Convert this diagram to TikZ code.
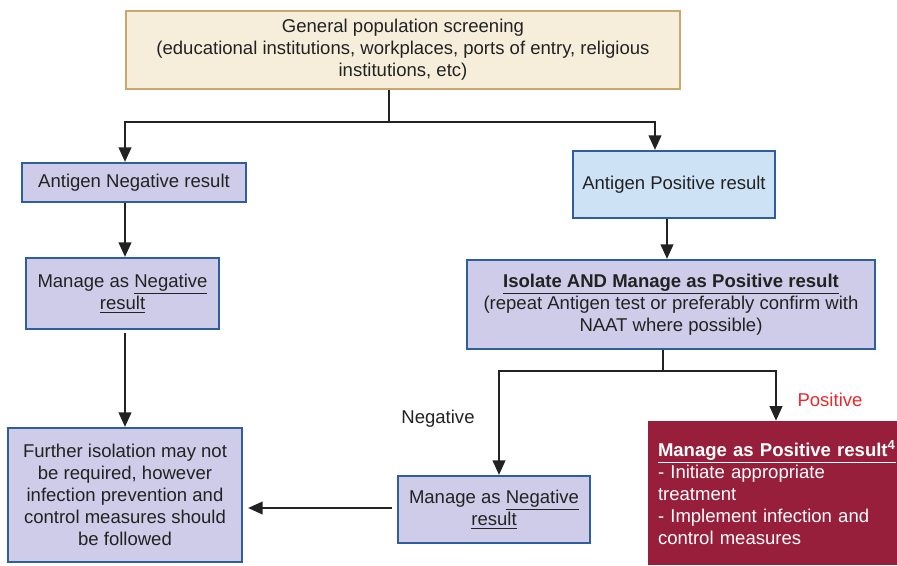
\documentclass[tikz,border=0pt]{standalone}
\usepackage{fontspec}
\setmainfont{Liberation Sans}
\usetikzlibrary{arrows.meta}
\definecolor{beigefill}{HTML}{F6EEDB}
\definecolor{beigeline}{HTML}{C9A96B}
\definecolor{lavfill}{HTML}{CECCE9}
\definecolor{blueline}{HTML}{2F5E9F}
\definecolor{skyfill}{HTML}{CDE2F5}
\definecolor{winefill}{HTML}{971F3B}
\definecolor{posred}{HTML}{E8292C}
\definecolor{ink}{HTML}{222222}
\tikzset{
  box/.style={draw=blueline, fill=lavfill, line width=1.6pt, align=center,
    text=ink, inner sep=0pt},
  conn/.style={draw=ink, line width=1.6pt},
  arr/.style={conn, -{Triangle[length=11pt,width=9.5pt]}},
  lbl/.style={text=ink, inner sep=0pt}
}
\begin{document}
\begin{tikzpicture}[x=0.75pt, y=-0.75pt, font=\fontsize{13.9}{16.5}\selectfont]
  \useasboundingbox (0,0) rectangle (897,565);
  % boxes
  \node[box, draw=beigeline, fill=beigefill, minimum width=415.5pt, minimum height=58.5pt]
    (screen) at (403,50) {General population screening\\(educational institutions, workplaces, ports of entry, religious\\institutions, etc)};
  \node[box, minimum width=168pt, minimum height=29.25pt] (antneg) at (134,182.5) {Antigen Negative result};
  \node[box, fill=skyfill, minimum width=151.5pt, minimum height=50.25pt] (antpos) at (674,184.5) {Antigen Positive result};
  \node[box, minimum width=144.75pt, minimum height=53.25pt] (manneg) at (122.5,293.5) {Manage as \underline{Negative}\\\underline{result}};
  \node[box, minimum width=306pt, minimum height=66.75pt] (isolate) at (671,304.5)
    {\textbf{\underline{Isolate AND Manage as Positive result}}\\(repeat Antigen test or preferably confirm with\\NAAT where possible)};
  \node[box, minimum width=175.5pt, minimum height=100.5pt] (further) at (125,495)
    {Further isolation may not\\be required, however\\infection prevention and\\control measures should\\be followed};
  \node[box, minimum width=144pt, minimum height=50.25pt] (retestneg) at (494,509.5) {Manage as \underline{Negative}\\\underline{result}};
  \node[fill=winefill, text=white, align=left, text width=171.75pt, inner sep=7.5pt,
    minimum height=108pt] (managepos) at (772.5,493)
    {\textbf{\underline{Manage as Positive result\textsuperscript{4}}}\\- Initiate appropriate\\treatment\\- Implement infection and\\control measures};
  % labels
  \node[lbl] (neglbl) at (438,419) {Negative};
  \node[lbl, text=posred] (poslbl) at (830,400) {Positive};
  % connectors
  \coordinate (split) at (389,122);
  \coordinate (leftcol) at (125,0);
  \coordinate (rightcol) at (655,0);
  \coordinate (poscol) at (667,0);
  \coordinate (split2) at (663,371);
  \coordinate (negcol) at (499,0);
  \coordinate (redcol) at (776,0);
  \draw[conn] (screen.south -| split) -- (split);
  \draw[arr] (split) -| (antneg.north -| leftcol);
  \draw[arr] (split) -| (antpos.north -| rightcol);
  \draw[arr] (antneg.south -| leftcol) -- (manneg.north -| leftcol);
  \draw[arr, shorten <=2.25pt] (manneg.south -| leftcol) -- (further.north -| leftcol);
  \draw[arr] (antpos.south -| poscol) -- (isolate.north -| poscol);
  \draw[conn] (isolate.south -| split2) -- (split2);
  \draw[arr] (split2) -| (retestneg.north -| negcol);
  \draw[arr] (split2) -| (managepos.north -| redcol);
  \draw[arr, shorten <=3.75pt, shorten >=3.75pt] (retestneg.west |- 0,508) -- (further.east |- 0,508);
\end{tikzpicture}
\end{document}
